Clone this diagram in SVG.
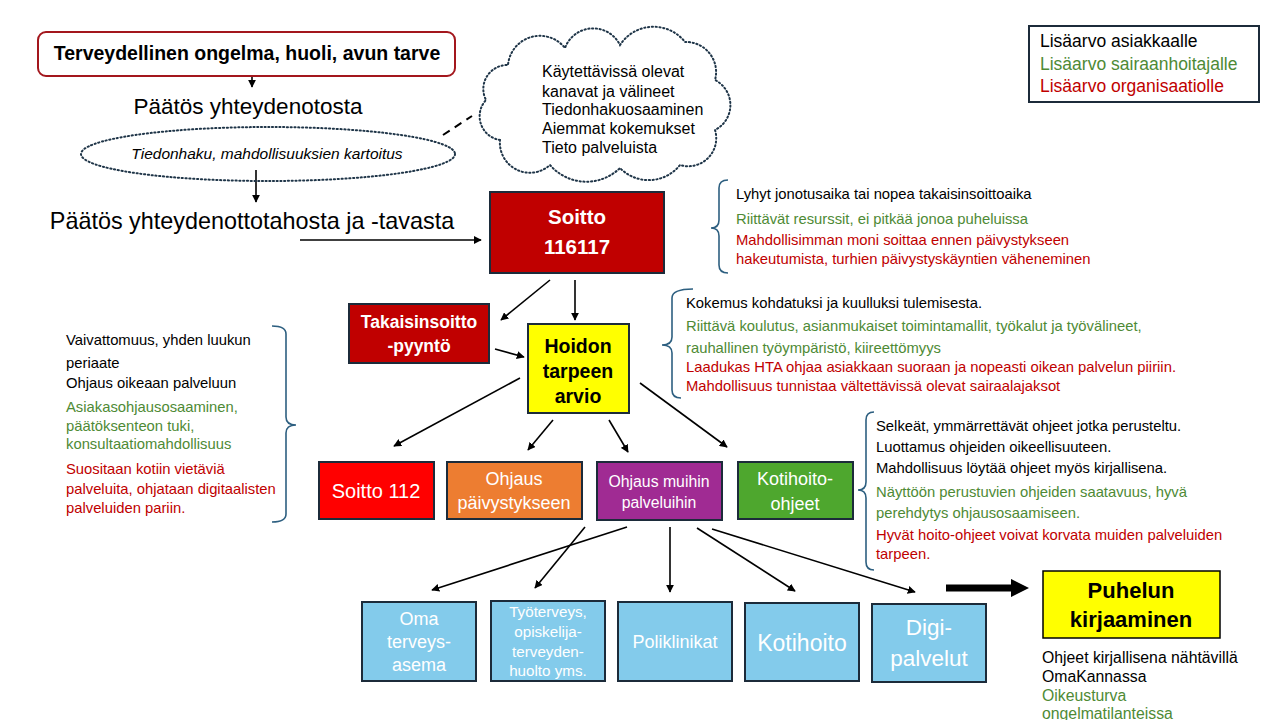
<svg xmlns="http://www.w3.org/2000/svg" width="1280" height="720" viewBox="0 0 1280 720">
<defs>
<marker id="ah" viewBox="0 0 10 10" refX="9" refY="5" markerWidth="5" markerHeight="5" orient="auto-start-reverse"><path d="M0,0 L10,5 L0,10 z" fill="#000"/></marker>
<marker id="ahb" viewBox="0 0 10 10" refX="5" refY="5" markerWidth="2.6" markerHeight="2.6" orient="auto"><path d="M0,0 L10,5 L0,10 z" fill="#000"/></marker>
<style>
text{font-family:"Liberation Sans",Arial,sans-serif}
.k{fill:#000}.g{fill:#4e8a35}.r{fill:#c00000}
.t13{font-size:14.8px}.t14{font-size:15.8px}
.box{stroke:#1c2b3a;stroke-width:2}
.w{fill:#fff}
.c{text-anchor:middle}
.b{font-weight:bold}
.ln{stroke:#000;stroke-width:1.6;fill:none;marker-end:url(#ah)}
.br{stroke:#2d5f80;stroke-width:1.6;fill:none}
.dot{fill:none;stroke:#1f3548;stroke-width:2;stroke-dasharray:1.2 2.6;stroke-linecap:round}
</style>
</defs>
<rect width="1280" height="720" fill="#fff"/>

<g id="connectors">
<line class="ln" x1="252" y1="70" x2="252" y2="87"/>
<line class="ln" x1="256" y1="170" x2="256" y2="202"/>
<line x1="443" y1="135" x2="472" y2="116" stroke="#000" stroke-width="2" stroke-dasharray="8 6"/>
<line class="ln" x1="300" y1="240" x2="481" y2="240"/>
<line class="ln" x1="550" y1="280" x2="501" y2="320"/>
<line class="ln" x1="575" y1="280" x2="575" y2="320"/>
<line class="ln" x1="495" y1="349" x2="524" y2="357"/>
<line class="ln" x1="520" y1="378" x2="394" y2="446"/>
<line class="ln" x1="553" y1="420" x2="528" y2="450"/>
<line class="ln" x1="609" y1="420" x2="628" y2="452"/>
<line class="ln" x1="640" y1="383" x2="727" y2="447"/>
<line class="ln" x1="627" y1="527" x2="432" y2="590"/>
<line class="ln" x1="585" y1="527" x2="535" y2="588"/>
<line class="ln" x1="670" y1="527" x2="670" y2="592"/>
<line class="ln" x1="697" y1="528" x2="795" y2="591"/>
<line class="ln" x1="712" y1="529" x2="915" y2="592"/>
<line x1="946" y1="588" x2="1020" y2="588" stroke="#000" stroke-width="7" marker-end="url(#ahb)"/>
</g>

<g id="start">
<rect x="38" y="32" width="417" height="44" rx="8" fill="#fff" stroke="#a3171d" stroke-width="2"/>
<text x="247" y="60" class="c b" font-size="19.5">Terveydellinen ongelma, huoli, avun tarve</text>
</g>

<g id="paatos1"><text x="248" y="114" class="c" font-size="22.5">Päätös yhteydenotosta</text></g>

<g id="tiedonhaku">
<ellipse cx="268" cy="154" rx="187" ry="27" class="dot"/>
<text x="267" y="159" class="c" font-size="15.5" font-style="italic">Tiedonhaku, mahdollisuuksien kartoitus</text>
</g>

<g id="paatos2"><text x="252" y="229" class="c" font-size="23.4">Päätös yhteydenottotahosta ja -tavasta</text></g>

<g id="cloud">
<path class="dot" d="M500,140 A24,24 0 0 1 486,100 A24,24 0 0 1 508,65 A32,32 0 0 1 565,48 A30,30 0 0 1 620,45 A40,40 0 0 1 685,42 A30,30 0 0 1 715,80 A28,28 0 0 1 715,130 A28,28 0 0 1 680,165 A40,40 0 0 1 620,168 A48,48 0 0 1 550,165 A30,30 0 0 1 500,140 Z"/>
<g font-size="16">
<text x="542" y="77">Käytettävissä olevat</text>
<text x="542" y="97">kanavat ja välineet</text>
<text x="542" y="115">Tiedonhakuosaaminen</text>
<text x="542" y="134">Aiemmat kokemukset</text>
<text x="542" y="153">Tieto palveluista</text>
</g>
</g>

<g id="legend">
<rect x="1029" y="26" width="230" height="76" fill="#fff" stroke="#1c2b3a" stroke-width="2"/>
<text x="1040" y="47" font-size="17.5" class="k">Lisäarvo asiakkaalle</text>
<text x="1040" y="70" font-size="17.5" class="g">Lisäarvo sairaanhoitajalle</text>
<text x="1040" y="92" font-size="17.5" class="r">Lisäarvo organisaatiolle</text>
</g>

<g id="soitto116117">
<rect x="490" y="192" width="174" height="81" fill="#c00000" class="box"/>
<text x="577" y="224" class="c b w" font-size="20.5">Soitto</text>
<text x="577" y="254" class="c b w" font-size="20.5">116117</text>
</g>

<g id="note-soitto">
<path class="br" d="M728,180 Q719,180 719,188 L719,220 Q719,228 711,228 Q719,228 719,236 L719,265 Q719,273 728,273"/>
<text x="736" y="199" class="t13 k">Lyhyt jonotusaika tai nopea takaisinsoittoaika</text>
<text x="736" y="224" class="t13 g">Riittävät resurssit, ei pitkää jonoa puheluissa</text>
<text x="736" y="245" class="t13 r">Mahdollisimman  moni soittaa ennen päivystykseen</text>
<text x="736" y="264" class="t13 r">hakeutumista, turhien päivystyskäyntien väheneminen</text>
</g>

<g id="takaisinsoitto">
<rect x="349" y="304" width="140" height="59" fill="#c00000" class="box"/>
<text x="419" y="328" class="c b w" font-size="17.5">Takaisinsoitto</text>
<text x="419" y="352" class="c b w" font-size="17.5">-pyyntö</text>
</g>

<g id="hoidon">
<rect x="528" y="324" width="101" height="89" fill="#ffff00" class="box"/>
<text x="578" y="353" class="c b" font-size="19.5">Hoidon</text>
<text x="578" y="378" class="c b" font-size="19.5">tarpeen</text>
<text x="578" y="403" class="c b" font-size="19.5">arvio</text>
</g>

<g id="note-hoidon">
<path class="br" d="M693,289 Q672,289 672,298 L672,337 Q672,345 662,345 Q672,345 672,353 L672,390 Q672,398 681,398"/>
<text x="686" y="308" class="t13 k">Kokemus  kohdatuksi  ja kuulluksi tulemisesta.</text>
<text x="686" y="331" class="t13 g">Riittävä koulutus, asianmukaiset toimintamallit, työkalut  ja työvälineet,</text>
<text x="686" y="353" class="t13 g">rauhallinen työympäristö,  kiireettömyys</text>
<text x="686" y="372" class="t13 r">Laadukas HTA ohjaa asiakkaan suoraan ja nopeasti oikean  palvelun piiriin.</text>
<text x="686" y="391" class="t13 r">Mahdollisuus tunnistaa vältettävissä olevat sairaalajaksot</text>
</g>

<g id="note-left">
<path class="br" d="M272,326 Q286,326 286,334 L286,417 Q286,425 296,425 Q286,425 286,433 L286,514 Q286,522 272,522"/>
<text x="66" y="345" class="t13 k">Vaivattomuus, yhden luukun</text>
<text x="66" y="368" class="t13 k">periaate</text>
<text x="66" y="388" class="t13 k">Ohjaus oikeaan palveluun</text>
<text x="66" y="412" class="t13 g">Asiakasohjausosaaminen,</text>
<text x="66" y="431" class="t13 g">päätöksenteon tuki,</text>
<text x="66" y="449" class="t13 g">konsultaatiomahdollisuus</text>
<text x="66" y="474" class="t13 r">Suositaan kotiin vietäviä</text>
<text x="66" y="494" class="t13 r">palveluita, ohjataan digitaalisten</text>
<text x="66" y="513" class="t13 r">palveluiden pariin.</text>
</g>

<g id="soitto112">
<rect x="319" y="462" width="115" height="57" fill="#ff0000" class="box"/>
<text x="376" y="498" class="c w" font-size="20">Soitto 112</text>
</g>

<g id="ohjaus-paivystys">
<rect x="447" y="462" width="135" height="57" fill="#ed7d31" class="box"/>
<text x="514" y="485" class="c w" font-size="18">Ohjaus</text>
<text x="514" y="509" class="c w" font-size="18">päivystykseen</text>
</g>

<g id="ohjaus-muihin">
<rect x="597" y="462" width="125" height="58" fill="#a02b93" class="box"/>
<text x="659" y="487" class="c w" font-size="15.8">Ohjaus muihin</text>
<text x="659" y="508" class="c w" font-size="15.8">palveluihin</text>
</g>

<g id="kotihoito-ohjeet">
<rect x="738" y="462" width="115" height="57" fill="#4ea72e" class="box"/>
<text x="795" y="485" class="c w" font-size="18">Kotihoito-</text>
<text x="795" y="510" class="c w" font-size="18">ohjeet</text>
</g>

<g id="note-ohjeet">
<path class="br" d="M874,412 Q866,412 866,420 L866,482 Q866,490 858,490 Q866,490 866,498 L866,562 Q866,570 874,570"/>
<text x="876" y="431" class="t13 k">Selkeät, ymmärrettävät  ohjeet jotka perusteltu.</text>
<text x="876" y="452" class="t13 k">Luottamus  ohjeiden oikeellisuuteen.</text>
<text x="876" y="473" class="t13 k">Mahdollisuus löytää ohjeet myös kirjallisena.</text>
<text x="876" y="497" class="t13 g">Näyttöön perustuvien ohjeiden saatavuus, hyvä</text>
<text x="876" y="518" class="t13 g">perehdytys ohjausosaamiseen.</text>
<text x="876" y="540" class="t13 r">Hyvät hoito-ohjeet voivat korvata muiden palveluiden</text>
<text x="876" y="559" class="t13 r">tarpeen.</text>
</g>

<g id="oma">
<rect x="362" y="602" width="114" height="79" fill="#83cbeb" class="box"/>
<text x="419" y="625" class="c w" font-size="18">Oma</text>
<text x="419" y="648" class="c w" font-size="18">terveys-</text>
<text x="419" y="671" class="c w" font-size="18">asema</text>
</g>

<g id="tyoterveys">
<rect x="491" y="601" width="114" height="80" fill="#83cbeb" class="box"/>
<text x="548" y="617" class="c w" font-size="15.2">Työterveys,</text>
<text x="548" y="637" class="c w" font-size="15.2">opiskelija-</text>
<text x="548" y="657" class="c w" font-size="15.2">terveyden-</text>
<text x="548" y="676" class="c w" font-size="15.2">huolto yms.</text>
</g>

<g id="poliklinikat">
<rect x="618" y="602" width="114" height="79" fill="#83cbeb" class="box"/>
<text x="675" y="648" class="c w" font-size="18">Poliklinikat</text>
</g>

<g id="kotihoito">
<rect x="745" y="603" width="114" height="78" fill="#83cbeb" class="box"/>
<text x="802" y="651" class="c w" font-size="23">Kotihoito</text>
</g>

<g id="digi">
<rect x="872" y="604" width="114" height="78" fill="#83cbeb" class="box"/>
<text x="929" y="635" class="c w" font-size="22.5">Digi-</text>
<text x="929" y="666" class="c w" font-size="22.5">palvelut</text>
</g>

<g id="kirjaaminen">
<rect x="1043" y="571" width="177" height="67" fill="#ffff00" stroke="#000" stroke-width="1.5"/>
<text x="1131" y="598" class="c b" font-size="22">Puhelun</text>
<text x="1131" y="627" class="c b" font-size="22">kirjaaminen</text>
<text x="1042" y="663" class="t14 k">Ohjeet kirjallisena nähtävillä</text>
<text x="1042" y="682" class="t14 k">OmaKannassa</text>
<text x="1042" y="701" class="t14 g">Oikeusturva</text>
<text x="1042" y="719" class="t14 g">ongelmatilanteissa</text>
</g>
</svg>
